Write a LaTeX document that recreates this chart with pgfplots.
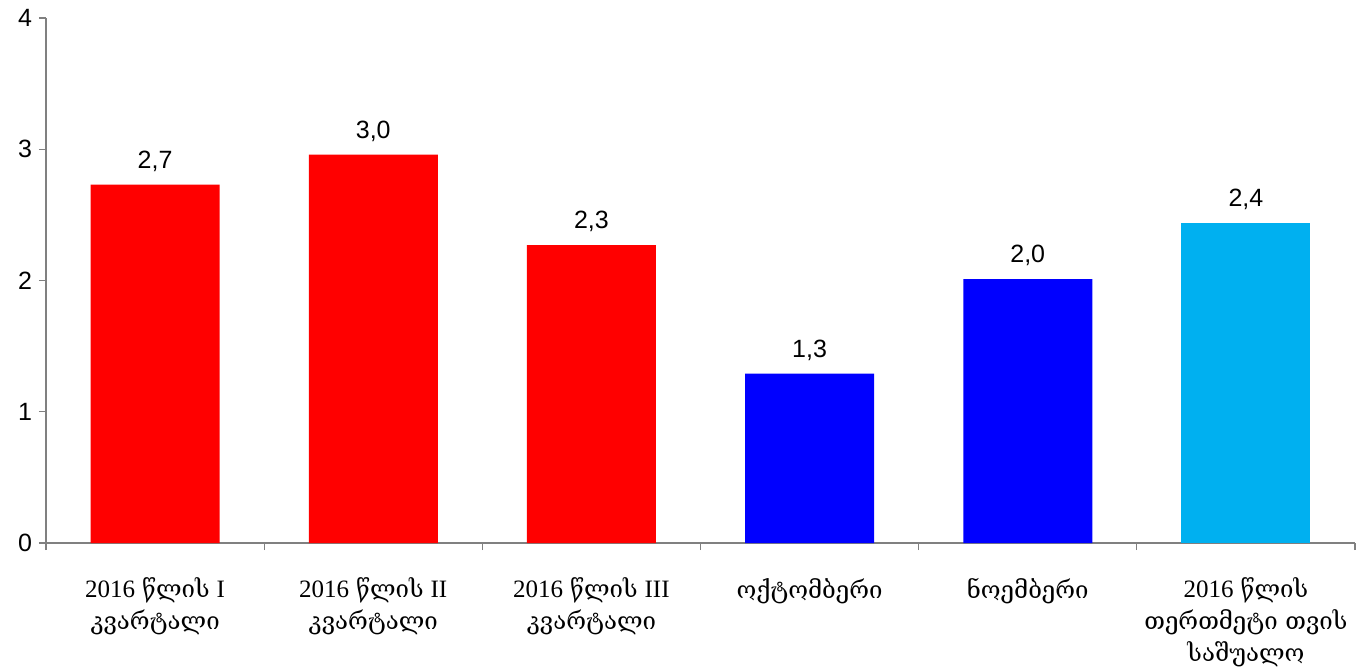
\documentclass[border=0pt]{standalone}
\usepackage{fontspec}
\setmainfont{Liberation Sans}
\newfontfamily\geo[Scale=0.96]{DejaVu Serif}
\newfontfamily\tnr{Liberation Serif}
\usepackage{pgfplots}
\pgfplotsset{compat=1.18}
\definecolor{cRed}{RGB}{255,0,0}
\definecolor{cBlue}{RGB}{0,0,255}
\definecolor{cLight}{RGB}{0,176,240}
\definecolor{axgray}{RGB}{128,128,128}
\newcommand{\yr}{{\tnr 2016} }
\begin{document}
\begin{tikzpicture}
\begin{axis}[
  scale only axis,
  width=654.5pt, height=262.5pt,
  xmin=-0.5, xmax=5.5,
  ymin=0, ymax=4,
  ytick={0,1,2,3,4},
  xtick={0,1,2,3,4,5},
  major x tick style={draw=none},
  minor xtick={-0.5,0.5,1.5,2.5,3.5,4.5,5.5},
  minor tick length=3.5pt,
  major tick length=3.5pt,
  tick align=outside,
  axis x line*=bottom,
  axis y line*=left,
  axis line style={draw=axgray, line width=0.6pt},
  every tick/.style={draw=axgray, line width=0.6pt},
  xticklabels={
    {\yr{\geo წლის} {\tnr I}\\{\geo კვარტალი}},
    {\yr{\geo წლის} {\tnr II}\\{\geo კვარტალი}},
    {\yr{\geo წლის} {\tnr III}\\{\geo კვარტალი}},
    {\geo ოქტომბერი},
    {\geo ნოემბერი},
    {\yr{\geo წლის}\\{\geo თერთმეტი თვის}\\{\geo საშუალო}}
  },
  xticklabel style={align=center, font=\fontsize{12.5}{16}\selectfont, anchor=north, yshift=-10.5pt},
  yticklabel style={font=\fontsize{12.5}{15}\selectfont},
  /pgf/number format/assume math mode=true,
  ybar,
  bar width=64.5pt,
  nodes near coords,
  every node near coord/.append style={font=\fontsize{12.5}{15}\selectfont, yshift=3pt},
  nodes near coords style={/pgf/number format/.cd, fixed, fixed zerofill, precision=1, use comma, assume math mode=true},
]
\addplot[fill=cRed, draw=none, bar shift=0pt] coordinates {(0,2.73) (1,2.96) (2,2.27)};
\addplot[fill=cBlue, draw=none, bar shift=0pt] coordinates {(3,1.29) (4,2.01)};
\addplot[fill=cLight, draw=none, bar shift=0pt] coordinates {(5,2.44)};
\end{axis}
\pgfresetboundingbox
\path ([xshift=-23pt,yshift=-61.5pt]current axis.south west) rectangle ([xshift=1pt,yshift=9pt]current axis.north east);
\end{tikzpicture}
\end{document}
